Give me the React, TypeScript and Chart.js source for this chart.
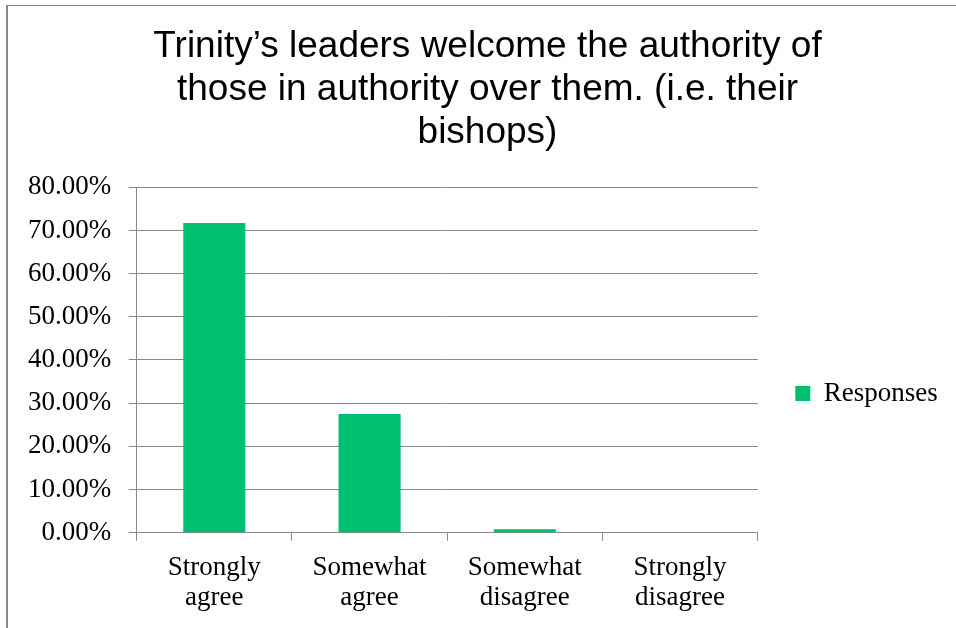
import React, { useEffect, useRef } from "react";
import { Chart, registerables } from "chart.js";

Chart.register(...registerables);

const titleLines = [
  "Trinity\u2019s leaders welcome the authority of",
  "those in authority over them. (i.e. their",
  "bishops)",
];
const categories = [
  ["Strongly", "agree"],
  ["Somewhat", "agree"],
  ["Somewhat", "disagree"],
  ["Strongly", "disagree"],
];
const seriesName = "Responses";
const responses = [71.7, 27.5, 0.8, 0];
const yMin = 0;
const yMax = 80;
const yStep = 10;

const GRID = "#898989";
const GREEN = "#00BF6F";
const SERIF = "'Liberation Serif', 'Times New Roman', serif";
const SANS = "'Liberation Sans', Arial, sans-serif";

export default function App() {
  const ref = useRef<HTMLCanvasElement | null>(null);

  useEffect(() => {
    if (!ref.current) return;
    const chart = new Chart(ref.current, {
      type: "bar",
      data: {
        labels: categories,
        datasets: [
          {
            label: seriesName,
            data: responses,
            backgroundColor: GREEN,
            borderWidth: 0,
            barPercentage: 0.4,
            categoryPercentage: 1,
          },
        ],
      },
      options: {
        responsive: false,
        animation: false,
        devicePixelRatio: 1,
        layout: { padding: { top: 0, left: 27.2, right: 8.2, bottom: 3.3 } },
        plugins: {
          tooltip: { enabled: false },
          title: {
            display: true,
            text: titleLines,
            color: "#000",
            font: { family: SANS, size: 37, weight: "normal", lineHeight: 1.15 },
            padding: { top: 26, bottom: 33.6 },
          },
          legend: {
            display: true,
            position: "right",
            fullSize: false,
            title: {
              display: true,
              text: " ",
              font: { size: 10, lineHeight: 1 },
              padding: { top: 0, bottom: 57 },
            },
            labels: {
              color: "#000",
              boxWidth: 15,
              boxHeight: 15,
              padding: 37.6,
              font: { family: SERIF, size: 27, lineHeight: 1.111 },
            },
          },
        },
        scales: {
          x: {
            grid: {
              display: true,
              drawOnChartArea: false,
              drawTicks: true,
              tickLength: 8,
              color: GRID,
              lineWidth: 1,
              offset: true,
            },
            border: { display: true, color: GRID, width: 1 },
            ticks: {
              color: "#000",
              padding: 12,
              maxRotation: 0,
              autoSkip: false,
              font: { family: SERIF, size: 27, lineHeight: 1.111 },
            },
          },
          y: {
            min: yMin,
            max: yMax,
            afterFit: (scale: any) => {
              scale.width = 109.5;
            },
            grid: {
              display: true,
              drawOnChartArea: true,
              drawTicks: true,
              tickLength: 8,
              color: GRID,
              lineWidth: 1,
            },
            border: { display: true, color: GRID, width: 1 },
            ticks: {
              stepSize: yStep,
              color: "#000",
              padding: 17.5,
              font: { family: SERIF, size: 27 },
              callback: (v: any) => Number(v).toFixed(2) + "%",
            },
          },
        },
      },
    });
    return () => chart.destroy();
  }, []);

  return (
    <div
      style={{
        position: "fixed",
        left: 0,
        top: 0,
        width: 956,
        height: 628,
        overflow: "hidden",
        background: "#fff",
      }}
    >
      <div
        style={{
          position: "absolute",
          left: 6,
          top: 5,
          width: 1000,
          height: 700,
          borderLeft: `2px solid ${GRID}`,
          borderTop: `1px solid ${GRID}`,
        }}
      />
      <canvas
        ref={ref}
        width={956}
        height={628}
        style={{ position: "absolute", left: 0, top: 0, display: "block" }}
      />
    </div>
  );
}
